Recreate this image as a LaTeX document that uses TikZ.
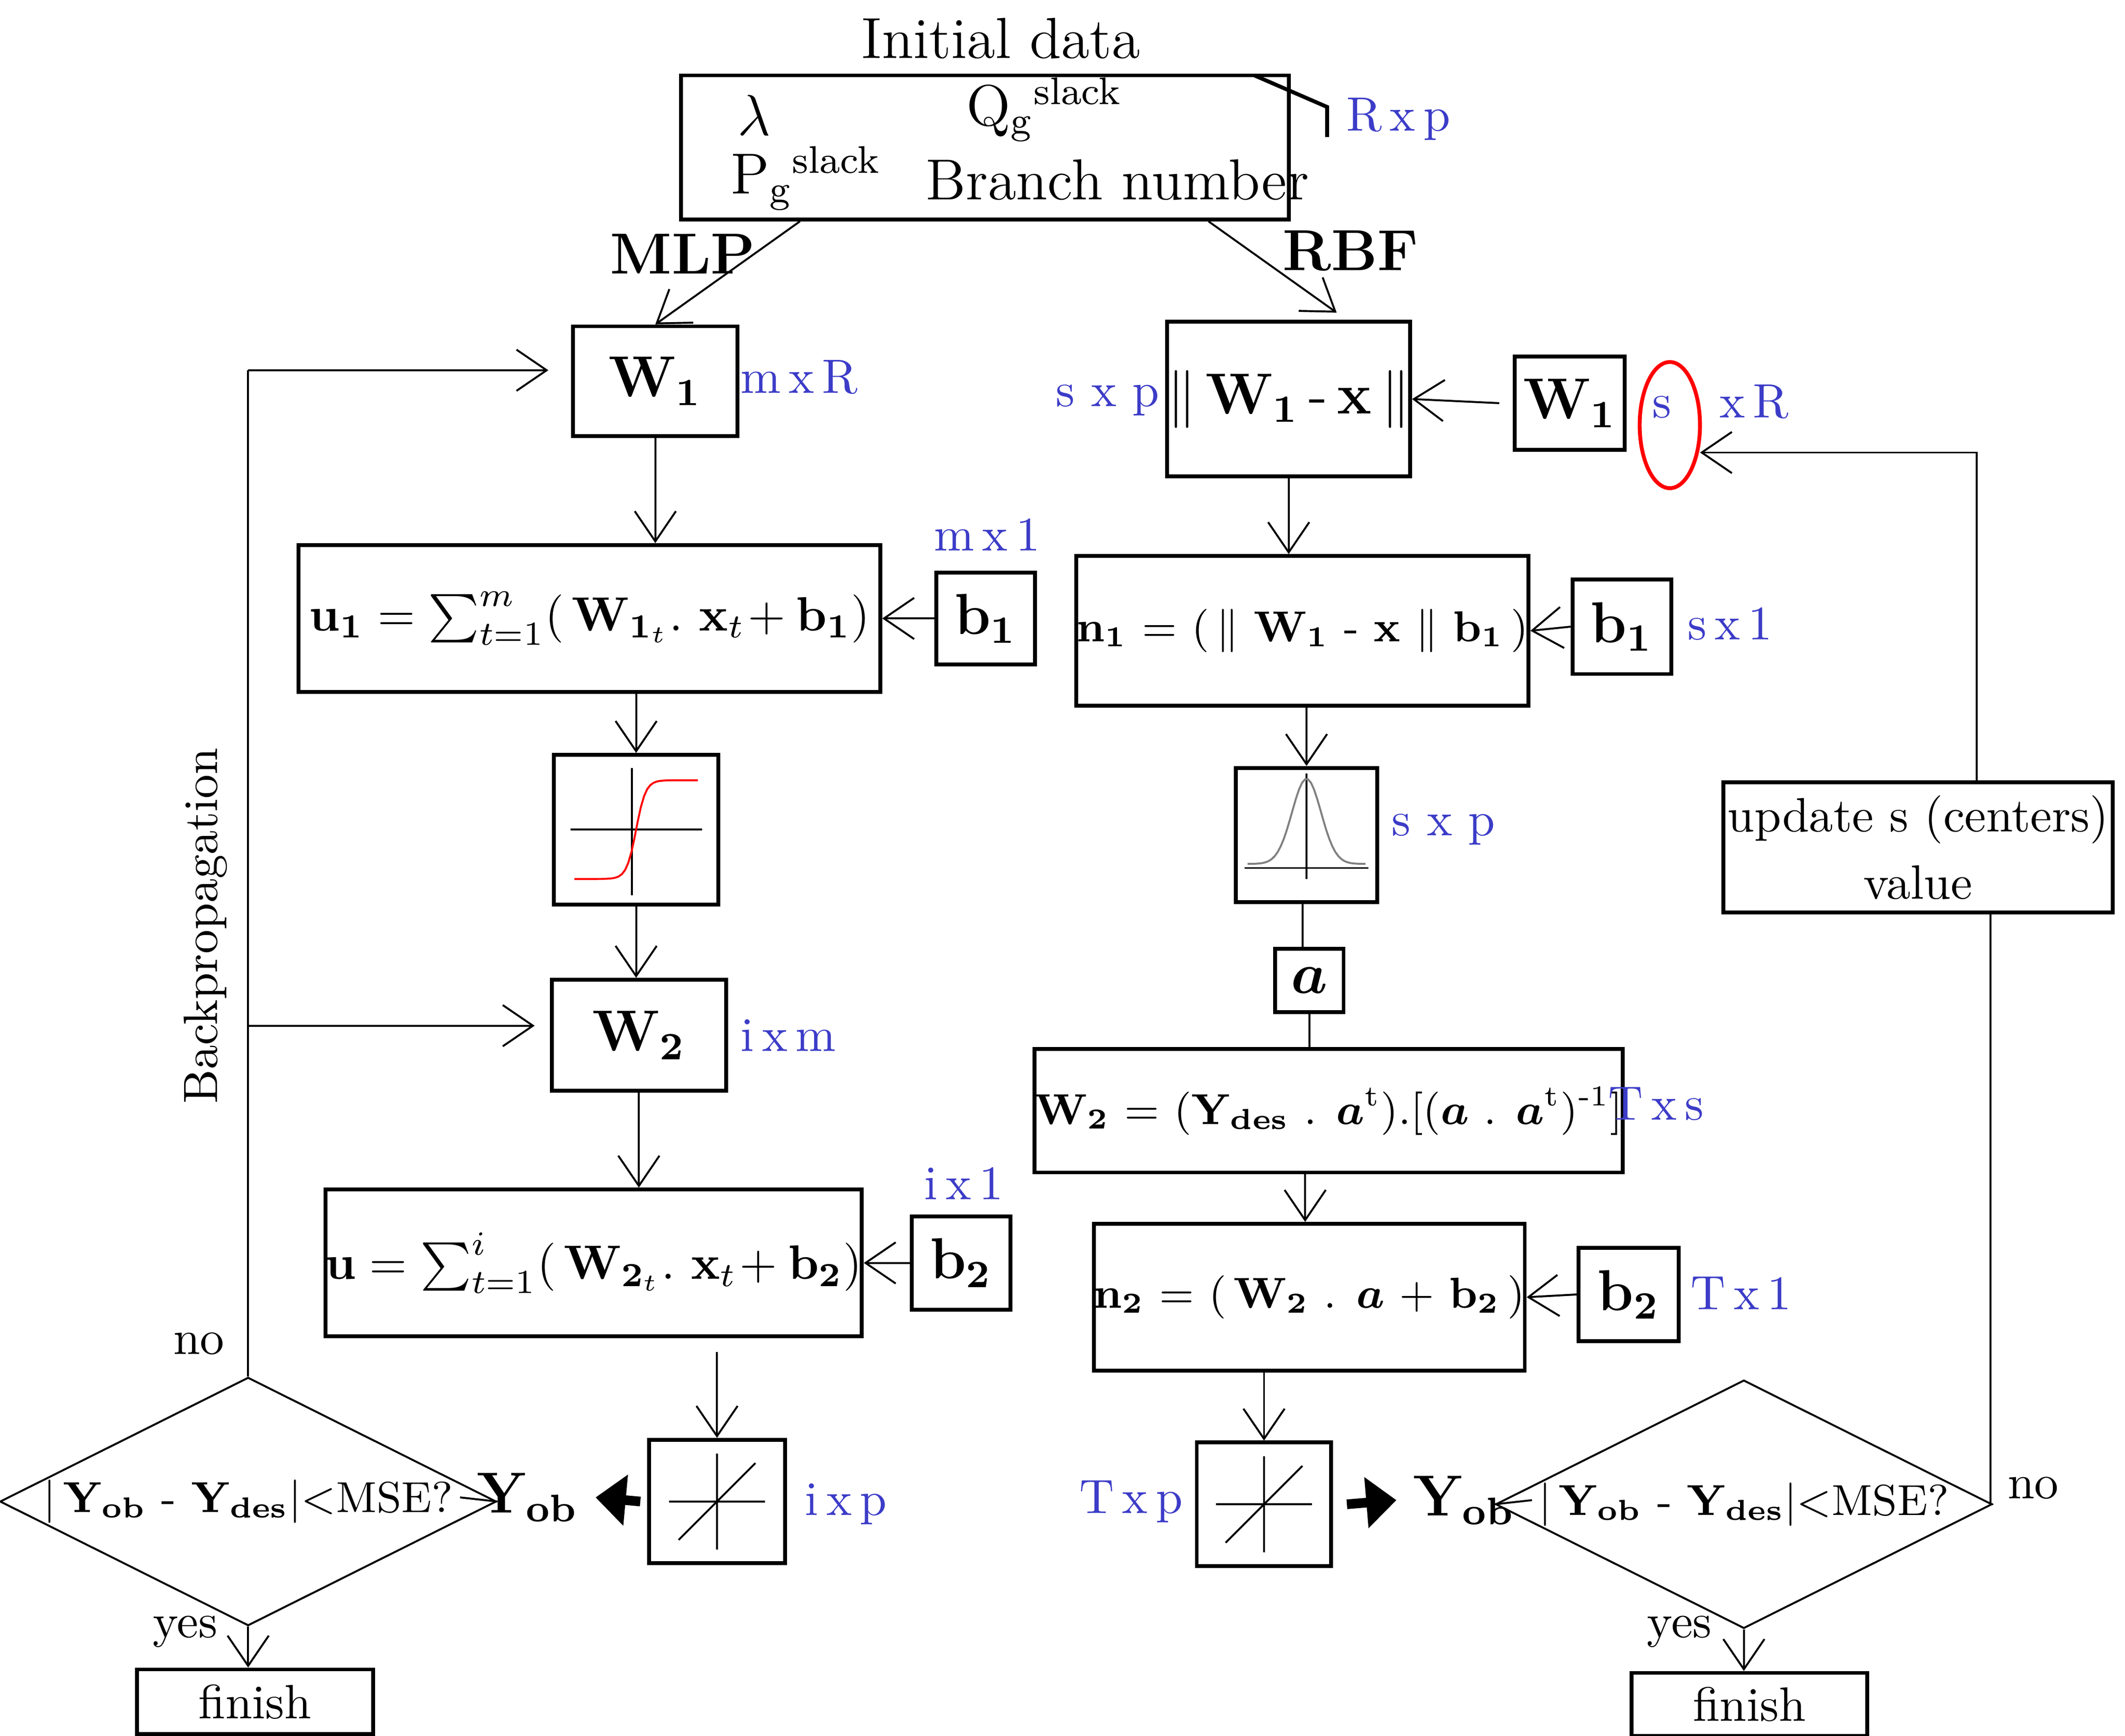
\documentclass[tikz,border=0pt]{standalone}
\usepackage{amsmath}
\usetikzlibrary{arrows.meta,shapes.geometric}
\definecolor{dimblue}{RGB}{60,60,200}
\tikzset{
  box/.style={draw, thick, inner sep=0pt, font=\normalsize},
  arr/.style={draw, -{Straight Barb[length=2.2mm,width=3mm]}},
  fat/.style={draw, line width=2pt, -{Triangle[length=2.2mm,width=3.6mm]}},
  dim/.style={text=dimblue, font=\normalsize},
  cond/.style={draw, diamond, aspect=2, inner sep=0pt, minimum width=3.28cm, minimum height=1.66cm, font=\small},
}
\begin{document}
\begin{tikzpicture}[x=0.01cm, y=-0.01cm]
    \useasboundingbox (0,0) rectangle (1550,1266);

    % Initial data
    \node[font=\large] (title) at (730,28) {Initial data};
    \node[box, minimum width=4.43cm, minimum height=1.05cm] (init) at (718.5,107.5) {};
    \draw[thick] (915,55) -- (968,78) -- (968,100);
    \node[font=\large] (lam) at (550,84) {$\lambda$};
    \node[font=\large] (qg) at (762,80) {Q$_{\text{g}}$\textsuperscript{slack}};
    \node[font=\large] (pg) at (588,130) {P$_{\text{g}}$\textsuperscript{slack}};
    \node[font=\large] (bn) at (815,131) {Branch number};
    \node[dim] (rxp) at (1020,87) {R\,x\,p};
    \node[font=\large\bfseries] (mlp) at (498,185) {MLP};
    \node[font=\large\bfseries] (rbf) at (985,183) {RBF};

    % MLP column
    \node[box, minimum width=1.2cm, minimum height=0.8cm, font=\large] (w1l) at (478,278) {$\mathbf{W}_{\mathbf 1}$};
    \node[dim] (d1) at (583,275) {m\,x\,R};
    \node[box, minimum width=4.24cm, minimum height=1.07cm] (u1) at (430,451)
        {$\mathbf{u}_{\mathbf 1} = \sum_{t=1}^{m}(\,\mathbf{W}_{\mathbf{1}_t}.\ \mathbf{x}_t\!+\mathbf{b}_{\mathbf 1})$};
    \node[box, minimum width=0.72cm, minimum height=0.67cm, font=\large] (b1l) at (719,451) {$\mathbf{b}_{\mathbf 1}$};
    \node[dim] (d2) at (720,390) {m\,x\,1};
    \node[box, minimum width=1.2cm, minimum height=1.09cm] (sig) at (464,605) {};
    \node[box, minimum width=1.27cm, minimum height=0.81cm, font=\large] (w2l) at (466,755) {$\mathbf{W}_{\mathbf 2}$};
    \node[dim] (d3) at (575,755) {i\,x\,m};
    \node[box, minimum width=3.87cm, minimum height=1.07cm] (ul) at (433,921)
        {$\mathbf{u} = \sum_{t=1}^{i}(\,\mathbf{W}_{\mathbf{2}_t}.\ \mathbf{x}_t\!+\mathbf{b}_{\mathbf 2})$};
    \node[box, minimum width=0.72cm, minimum height=0.68cm, font=\large] (b2l) at (701,921) {$\mathbf{b}_{\mathbf 2}$};
    \node[dim] (d4) at (703,863) {i\,x\,1};
    \node[box, minimum width=0.99cm, minimum height=0.9cm] (linl) at (523,1095) {};
    \node[dim] (d5) at (617,1097) {i\,x\,p};
    \node[font=\large] (yobl) at (385,1092) {$\mathbf{Y}_{\mathbf{ob}}$};
    \node[cond] (condl) at (181,1095) {$|\,\mathbf{Y}_{\mathbf{ob}}$ - $\mathbf{Y}_{\mathbf{des}}|$<MSE?};
    \node[box, minimum width=1.72cm, minimum height=0.47cm] (finl) at (186,1241) {finish};
    \node (nol) at (145,980) {no};
    \node (yesl) at (135,1190) {yes};
    \node[rotate=90] (bp) at (150,675) {Backpropagation};

    % sigmoid and linear sketches
    \draw[shift={(sig.center)}] (-48,0) -- (48,0) (-3,-45) -- (-3,48);
    \draw[red, shift={(sig.center)}] plot[domain=-45:45, samples=40] ({\x},{-36*tanh(\x/7)});
    \draw[shift={(linl.center)}] (-35,0) -- (35,0) (0,-35) -- (0,35) (-28,28) -- (28,-28);

    % MLP connectors
    \path (init.south west) ++(88,0) coordinate (ml);
    \draw[arr] (ml) -- (w1l.north);
    \draw[arr] (w1l.south) -- (w1l.south |- u1.north);
    \draw[arr] (b1l.west) -- (u1.east);
    \draw[arr] (u1.south -| sig.north) -- (sig.north);
    \draw[arr] (sig.south) -- (sig.south |- w2l.north);
    \draw[arr] (w2l.south) -- (w2l.south |- ul.north);
    \draw[arr] (b2l.west) -- (ul.east);
    \draw[arr] (ul.south -| linl.north) ++(0,10) -- (linl.north);
    \draw[fat] (linl.west) ++(-5,0) -- (yobl.east);
    \draw (yobl.west) -- (condl.east);
    \draw[arr] (condl.south) -- (finl.north -| condl.south);
    \coordinate (top) at (181,270);
    \coordinate (mid) at (181,748);
    \draw (condl.north) -- (top);
    \draw[arr] (top) -- (400,270) coordinate (w1in);
    \draw[arr] (mid) -- (390,748) coordinate (w2in);

    % RBF column
    \node[box, minimum width=1.55cm, minimum height=1.13cm, font=\large] (dist) at (940,291)
        {$\|\,\mathbf{W}_{\mathbf 1}\,\text{-}\,\mathbf{x}\,\|$};
    \node[dim] (d6) at (808,292) {s\,\,x\,\,p};
    \node[box, minimum width=0.8cm, minimum height=0.68cm, font=\large] (w1r) at (1145,294) {$\mathbf{W}_{\mathbf 1}$};
    \node[dim] (d7) at (1255,293) {s\quad x\,R};
    \draw[red, thick] (1218,310) ellipse (22 and 46);
    \node[box, minimum width=3.14cm, minimum height=1.09cm, font=\small] (n1) at (950,460)
        {$\mathbf{n}_{\mathbf 1}$ = (\,$\|$\ $\mathbf{W}_{\mathbf 1}$ - $\mathbf{x}$ $\|$ $\mathbf{b}_{\mathbf 1}$\,)};
    \node[box, minimum width=0.72cm, minimum height=0.69cm, font=\large] (b1r) at (1183,457) {$\mathbf{b}_{\mathbf 1}$};
    \node[dim] (d8) at (1262,455) {s\,x\,1};
    \node[box, minimum width=1.03cm, minimum height=0.98cm] (gau) at (953,609) {};
    \node[dim] (d9) at (1053,605) {s\,\,x\,\,p};
    \node[box, minimum width=0.5cm, minimum height=0.46cm, font=\large] (abox) at (955,715) {$\boldsymbol{a}$};
    \node[box, minimum width=3.86cm, minimum height=0.9cm, font=\small] (w2r) at (969,810)
        {$\mathbf{W}_{\mathbf 2}$ = ($\mathbf{Y}_{\mathbf{des}}$ . $\boldsymbol{a}^{\text{t}}$).[($\boldsymbol{a}$ . $\boldsymbol{a}^{\text{t}}$)$^{\text{-1}}$]};
    \node[dim] (d10) at (1208,805) {T\,x\,s};
    \node[box, minimum width=3.13cm, minimum height=1.07cm, font=\small] (n2) at (955,946)
        {$\mathbf{n}_{\mathbf 2}$ = (\,$\mathbf{W}_{\mathbf 2}$ . $\boldsymbol{a}$ + $\mathbf{b}_{\mathbf 2}$\,)};
    \node[box, minimum width=0.73cm, minimum height=0.68cm, font=\large] (b2r) at (1188,944) {$\mathbf{b}_{\mathbf 2}$};
    \node[dim] (d11) at (1270,943) {T\,x\,1};
    \node[box, minimum width=0.98cm, minimum height=0.9cm] (linr) at (922,1097) {};
    \node[dim] (d12) at (825,1095) {T\,x\,p};
    \node[font=\large] (yobr) at (1068,1094) {$\mathbf{Y}_{\mathbf{ob}}$};
    \node[cond] (condr) at (1272,1097) {$|\,\mathbf{Y}_{\mathbf{ob}}$ - $\mathbf{Y}_{\mathbf{des}}|$<MSE?};
    \node[box, minimum width=1.72cm, minimum height=0.46cm] (finr) at (1276,1243) {finish};
    \node (nor) at (1483,1085) {no};
    \node (yesr) at (1225,1190) {yes};
    \node[box, minimum width=2.84cm, minimum height=0.95cm, align=center] (upd) at (1399,618)
        {update s (centers)\\[2pt] value};

    % gaussian and linear sketches
    \draw[shift={(gau.center)}] (-45,24) -- (45,24) (0,-45) -- (0,32);
    \draw[gray, shift={(gau.center)}] plot[domain=-43:43, samples=40] ({\x},{21-62*exp(-(\x/15)^2)});
    \draw[shift={(linr.center)}] (-35,0) -- (35,0) (0,-35) -- (0,35) (-28,28) -- (28,-28);

    % RBF connectors
    \path (init.south east) ++(-60,0) coordinate (mr);
    \draw[arr] (mr) -- (975,228) coordinate (rin);
    \draw[arr] (w1r.west) ++(-10,0) -- (dist.east);
    \draw[arr] (dist.south) -- (dist.south |- n1.north);
    \draw[arr] (b1r.west) -- (n1.east);
    \draw[arr] (n1.south -| gau.north) -- (gau.north);
    \draw (gau.south) ++(-3,0) -- (abox.north -| 950,0);
    \draw (abox.south) -- (abox.south |- w2r.north);
    \draw[arr] (w2r.south -| 952,0) -- (n2.north -| 952,0);
    \draw[arr] (b2r.west) -- (n2.east);
    \draw[arr] (n2.south -| linr.north) -- (linr.north);
    \draw[fat] (linr.east) ++(10,0) -- (yobr.west);
    \draw (yobr.east) -- (condr.west);
    \draw[arr] (condr.south) -- (finr.north -| condr.south);
    \draw (condr.east) -- (1452,1097) -- (1452,675 |- upd.south);
    \draw[arr] (upd.north -| 1442,0) -- (1442,330) -- (1240,330);
\end{tikzpicture}
\end{document}
